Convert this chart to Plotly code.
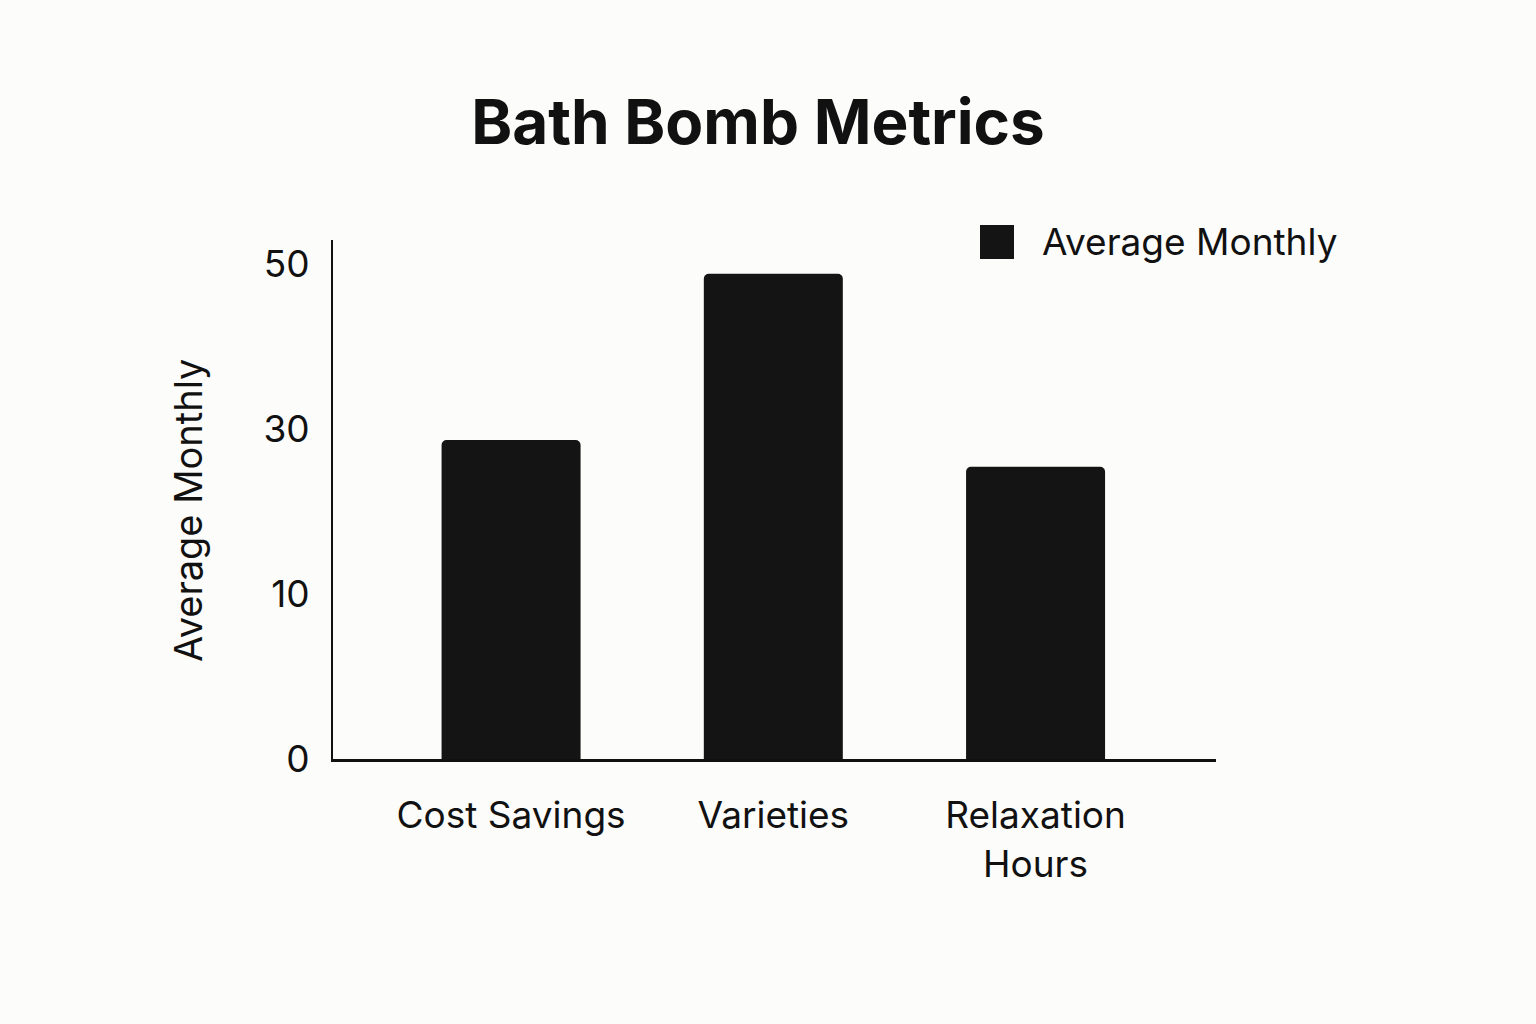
import plotly.graph_objects as go

categories = ["Cost Savings", "Varieties", "Relaxation<br>Hours"]
# values read in axis units (tick labels are evenly spaced on the axis)
values = [32.2, 49.0, 29.5]
tick_positions = [0, 16.67, 33.33, 50]
tick_labels = ["0", "10", "30", "50"]
series_name = "Average Monthly"

BG = "#FCFCFA"
BAR = "#141414"
FONT = "Inter, Roboto, sans-serif"

fig = go.Figure()
fig.add_trace(go.Bar(
    x=list(range(len(categories))), y=values, name=series_name,
    marker=dict(color=BAR, cornerradius=5, line=dict(width=0)),
    width=0.53, showlegend=False,
))

fig.update_layout(
    width=1536, height=1024,
    paper_bgcolor=BG, plot_bgcolor=BG,
    margin=dict(l=333, r=320, t=240, b=265),
    font=dict(family=FONT, color="#111111", size=37),
    title=dict(text="<b>Bath Bomb Metrics</b>", x=758/1536, xanchor="center",
               y=1 - 122/1024, yanchor="middle", yref="container",
               font=dict(size=62, family=FONT, color="#111111", weight=600)),
    xaxis=dict(range=[-0.679, 2.688], tickvals=list(range(len(categories))),
               ticktext=categories, showgrid=False, zeroline=False,
               showline=True, linecolor="#111111", linewidth=3,
               ticks="", ticklabelstandoff=22, tickfont=dict(size=37)),
    yaxis=dict(range=[0, 52.4], tickvals=tick_positions, ticktext=tick_labels,
               showgrid=False, zeroline=False, showline=True,
               linecolor="#111111", linewidth=2, ticks="",
               ticklabelstandoff=14, tickfont=dict(size=37)),
    shapes=[dict(type="rect", xref="paper", yref="paper",
                 x0=(980-333)/883, x1=(1014-333)/883,
                 y0=(759-259)/519, y1=(759-225)/519,
                 fillcolor=BAR, line=dict(width=0))],
    annotations=[
        dict(text=series_name, xref="paper", yref="paper",
             x=(1040-333)/883, y=(759-241)/519, xanchor="left",
             yanchor="middle", showarrow=False,
             font=dict(size=37, family=FONT, color="#111111")),
        dict(text=series_name, xref="paper", yref="paper",
             x=(188-333)/883, y=(759-511)/519, xanchor="center",
             yanchor="middle", showarrow=False, textangle=-90,
             font=dict(size=38, family=FONT, color="#111111")),
    ],
)

fig.write_html("out.html")
